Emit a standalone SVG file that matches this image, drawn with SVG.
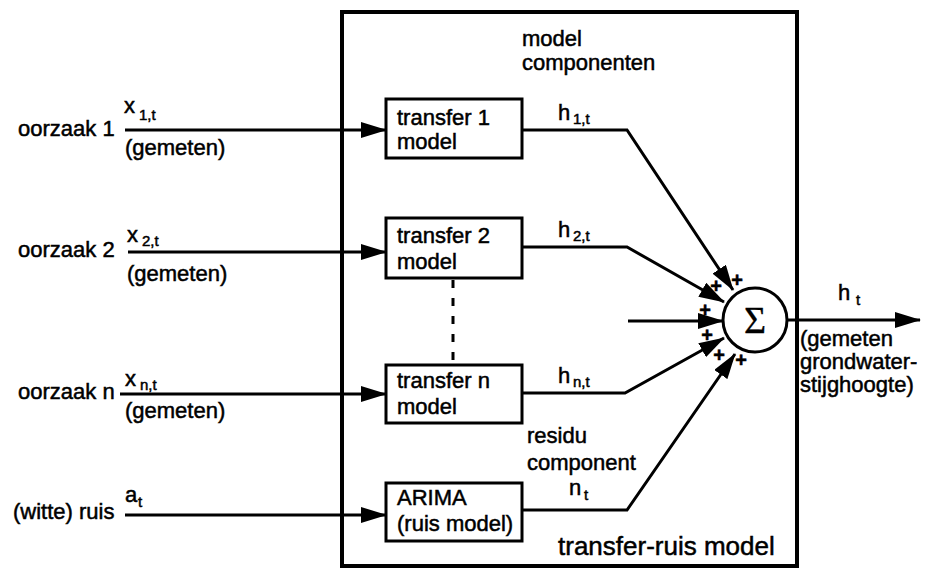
<svg xmlns="http://www.w3.org/2000/svg" width="927" height="568" viewBox="0 0 927 568">
<style>
text{font-family:"Liberation Sans",Arial,sans-serif;font-size:22px;fill:#000;stroke:#000;stroke-width:0.5}
.sub{font-size:15px}
.big{font-size:26px}
.plus{font-size:20px;font-weight:bold}
.box{fill:#fff;stroke:#000;stroke-width:3}
.ln{fill:none;stroke:#000;stroke-width:3}
</style>
<defs>
<marker id="ah" viewBox="0 0 26 16" refX="25" refY="8" markerWidth="26" markerHeight="16" markerUnits="userSpaceOnUse" orient="auto">
<path d="M0,0 L26,8 L0,16 z" fill="#000"/>
</marker>
</defs>
<rect width="927" height="568" fill="#fff"/>
<g id="frame">
<rect x="342" y="12" width="455" height="554" fill="none" stroke="#000" stroke-width="4"/>
<text x="558" y="555" class="big">transfer-ruis model</text>
<text x="522" y="46">model</text>
<text x="522" y="70">componenten</text>
</g>
<g id="connectors">
<path class="ln" d="M125,130 H386" marker-end="url(#ah)"/>
<path class="ln" d="M128,252 H386" marker-end="url(#ah)"/>
<path class="ln" d="M120,394 H386" marker-end="url(#ah)"/>
<path class="ln" d="M125,515 H386" marker-end="url(#ah)"/>
<path class="ln" d="M522,130 H627 L733,290" marker-end="url(#ah)"/>
<path class="ln" d="M522,247 H627 L724,302" marker-end="url(#ah)"/>
<path class="ln" d="M628,321 H723" marker-end="url(#ah)"/>
<path class="ln" d="M522,393 H625 L724,338" marker-end="url(#ah)"/>
<path class="ln" d="M522,510 H627 L735,354" marker-end="url(#ah)"/>
<path class="ln" d="M787,320 H920" marker-end="url(#ah)"/>
<path d="M453,280 V365" stroke="#000" stroke-width="3" stroke-dasharray="8,10"/>
</g>
<g id="in1">
<text x="18" y="136">oorzaak 1</text>
<text x="124" y="113">x</text><text x="139" y="120" class="sub">1,t</text>
<text x="125" y="155">(gemeten)</text>
</g>
<g id="in2">
<text x="18" y="257">oorzaak 2</text>
<text x="127" y="242">x</text><text x="142" y="246" class="sub">2,t</text>
<text x="127" y="281">(gemeten)</text>
</g>
<g id="inn">
<text x="18" y="399">oorzaak n</text>
<text x="125" y="386">x</text><text x="140" y="390" class="sub">n,t</text>
<text x="125" y="418">(gemeten)</text>
</g>
<g id="ina">
<text x="13" y="519">(witte) ruis</text>
<text x="125" y="502">a</text><text x="138" y="507" class="sub">t</text>
</g>
<g id="transfer1">
<rect class="box" x="386" y="99" width="136" height="59"/>
<text x="397" y="125">transfer 1</text>
<text x="397" y="149">model</text>
</g>
<g id="transfer2">
<rect class="box" x="386" y="218" width="136" height="60"/>
<text x="397" y="243">transfer 2</text>
<text x="397" y="269">model</text>
</g>
<g id="transfern">
<rect class="box" x="386" y="365" width="136" height="58"/>
<text x="397" y="388">transfer n</text>
<text x="397" y="414">model</text>
</g>
<g id="arima">
<rect class="box" x="386" y="483" width="136" height="58"/>
<text x="397" y="505">ARIMA</text>
<text x="397" y="531">(ruis model)</text>
</g>
<g id="labels">
<text x="558" y="120">h</text><text x="573" y="124" class="sub">1,t</text>
<text x="558" y="237">h</text><text x="573" y="241" class="sub">2,t</text>
<text x="558" y="383">h</text><text x="573" y="387" class="sub">n,t</text>
<text x="527" y="443">residu</text>
<text x="527" y="470">component</text>
<text x="569" y="495">n</text><text x="584" y="500" class="sub">t</text>
</g>
<g id="sum">
<circle cx="755" cy="320" r="32" fill="#fff" stroke="#000" stroke-width="3"/>
<text x="755" y="333" text-anchor="middle" style="font-family:'Liberation Serif','Times New Roman',serif;font-size:38px;stroke-width:0.3">Σ</text>
<text x="737" y="287" class="plus" text-anchor="middle">+</text>
<text x="716" y="293" class="plus" text-anchor="middle">+</text>
<text x="705" y="317" class="plus" text-anchor="middle">+</text>
<text x="707" y="342" class="plus" text-anchor="middle">+</text>
<text x="719" y="362" class="plus" text-anchor="middle">+</text>
<text x="741" y="367" class="plus" text-anchor="middle">+</text>
</g>
<g id="output">
<text x="838" y="300">h</text><text x="856" y="305" class="sub">t</text>
<text x="800" y="346">(gemeten</text>
<text x="800" y="369">grondwater-</text>
<text x="800" y="392">stijghoogte)</text>
</g>
</svg>
